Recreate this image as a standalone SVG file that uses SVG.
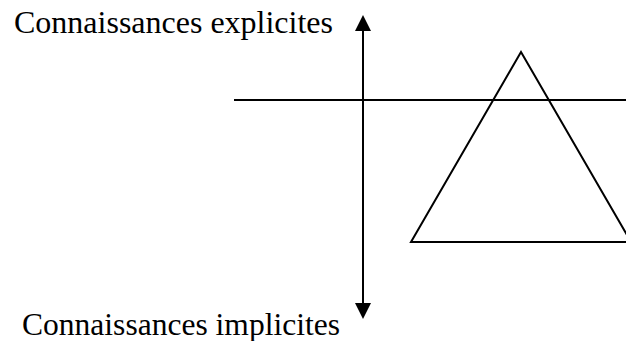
<svg xmlns="http://www.w3.org/2000/svg" width="626" height="341" viewBox="0 0 626 341">
<style>
.t{font-family:"Liberation Serif","Times New Roman",serif;font-size:32px;fill:#000}
.l{stroke:#000;stroke-width:2;fill:none}
</style>
<rect width="626" height="341" fill="#fff"/>
<g id="label-explicit"><text class="t" x="14" y="33" textLength="319" lengthAdjust="spacingAndGlyphs">Connaissances explicites</text></g>
<g id="label-implicit"><text class="t" x="22" y="335" textLength="318" lengthAdjust="spacingAndGlyphs">Connaissances implicites</text></g>
<g id="triangle"><polygon class="l" points="521,52 411,242 631,242"/></g>
<g id="connectors">
<line class="l" x1="234" y1="100" x2="626" y2="100"/>
<line class="l" x1="363" y1="30" x2="363" y2="304"/>
<polygon points="363,15 355,31 371,31" fill="#000"/>
<polygon points="363,319 355,303 371,303" fill="#000"/>
</g>
</svg>
